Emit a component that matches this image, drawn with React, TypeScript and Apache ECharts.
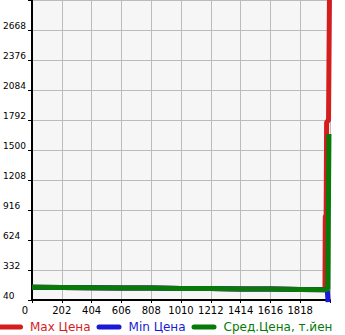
import React, { useEffect, useRef } from "react";
import * as echarts from "echarts";

// X-axis settings and labels
const xMin = 0;
const xMax = 2020;
const xStep = 202;
// Y-axis settings (ticks at 40, 332, ... 2960)
const yMin = 40;
const yMax = 2960;
const yStep = 292;

const seriesNames = ["Max Цена", "Min Цена", "Сред.Цена, т.йен"];
const seriesColors = ["#d41e1e", "#1a1ad6", "#087a08"];

// Max price
const maxX = [0, 202, 404, 606, 808, 1010, 1212, 1414, 1616, 1818, 1986, 1988, 1994, 1997, 2010, 2017];
const maxY = [164, 162, 160, 158, 156, 153, 151, 148, 146, 143, 142, 850, 870, 1770, 1790, 3100];
// Min price
const minX = [0, 202, 404, 606, 808, 1010, 1212, 1414, 1616, 1818, 1990, 2002, 2007];
const minY = [164, 162, 160, 158, 156, 153, 151, 148, 146, 143, 140, 130, 20];
// Average price
const avgX = [0, 202, 404, 606, 808, 1010, 1212, 1414, 1616, 1818, 1990, 2005, 2013];
const avgY = [164, 162, 160, 158, 156, 153, 151, 148, 146, 143, 140, 150, 1656];

const FONT = "DejaVu Sans";

function pairs(xs: number[], ys: number[]) {
  // shift values so the y-axis can start at 0 (ticks are counted from min)
  return xs.map((x, i) => [x, ys[i] - yMin]);
}

export default function App() {
  const ref = useRef<HTMLDivElement>(null);
  useEffect(() => {
    if (!ref.current) return;
    const chart = echarts.init(ref.current, undefined, { renderer: "svg" });
    const datasets = [pairs(maxX, maxY), pairs(minX, minY), pairs(avgX, avgY)];
    const capsule = "path://M2.5,0 H22.5 A2.5,2.5 0 0 1 22.5,5 H2.5 A2.5,2.5 0 0 1 2.5,0 Z";
    chart.setOption({
      animation: false,
      backgroundColor: "#ffffff",
      grid: {
        left: 30,
        right: 15,
        top: 0,
        bottom: 35,
        show: true,
        backgroundColor: "#f6f6f6",
        borderWidth: 0,
      },
      legend: {
        left: -2,
        top: 321,
        padding: 0,
        itemGap: 6,
        itemWidth: 25,
        itemHeight: 5,
        data: seriesNames.map((n, i) => ({
          name: n,
          icon: capsule,
          itemStyle: { color: seriesColors[i] },
          textStyle: { color: seriesColors[i] },
        })),
        textStyle: { fontFamily: FONT, fontSize: 12, padding: [0, 0, 0, 2] },
      },
      xAxis: {
        type: "value",
        min: xMin,
        max: xMax,
        interval: xStep,
        axisLine: { show: true, lineStyle: { color: "#000", width: 2 } },
        axisTick: { show: true, length: 3, lineStyle: { color: "#000" } },
        splitLine: { show: true, lineStyle: { color: "#bbbbbb", width: 1 } },
        axisLabel: {
          color: "#000",
          fontFamily: FONT,
          fontSize: 10,
          margin: 5,
          formatter: (v: number) => (v >= xMax ? "" : v === 0 ? "{z|0}" : String(v)),
          rich: { z: { fontFamily: FONT, fontSize: 10, color: "#000", padding: [0, 14, 0, 0] } },
        },
      },
      yAxis: {
        type: "value",
        min: 0,
        max: yMax - yMin,
        interval: yStep,
        axisLine: { show: true, lineStyle: { color: "#000", width: 2 } },
        axisTick: { show: true, length: 4, lineStyle: { color: "#000" } },
        splitLine: { show: true, lineStyle: { color: "#bbbbbb", width: 1 } },
        axisLabel: {
          color: "#000",
          fontFamily: FONT,
          fontSize: 9,
          align: "left",
          verticalAlign: "bottom",
          margin: 29,
          formatter: (v: number) => (v >= yMax - yMin ? "" : String(v + yMin)),
        },
      },
      series: seriesNames.map((n, i) => ({
        name: n,
        type: "line",
        data: datasets[i],
        showSymbol: false,
        symbol: "none",
        clip: i !== 1,
        lineStyle: { color: seriesColors[i], width: 5 },
        itemStyle: { color: seriesColors[i] },
      })),
    });
    return () => chart.dispose();
  }, []);
  return <div ref={ref} style={{ width: 345, height: 335, position: "absolute", left: 0, top: 0 }} />;
}
